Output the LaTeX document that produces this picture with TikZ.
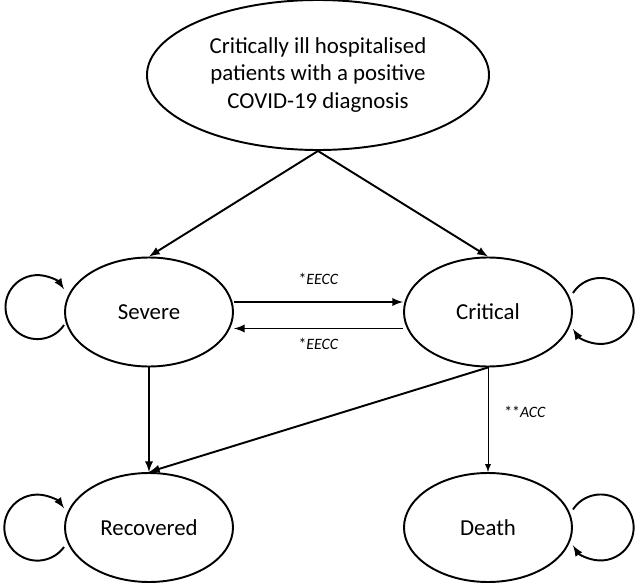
\documentclass[tikz,border=0pt]{standalone}
\usepackage{fontspec}
\setmainfont{Carlito}
\usetikzlibrary{arrows,shapes.geometric}

\begin{document}
\begin{tikzpicture}[line width=1.1pt,>=latex,
state/.style={draw,ellipse,minimum width=3.36cm,minimum height=2.18cm,inner sep=0pt,
font=\fontsize{13}{15.5}\selectfont},
rate/.style={font=\fontsize{9}{11}\selectfont}]
\useasboundingbox(0,0)rectangle(12.72,-11.66);
\node[state,minimum width=6.84cm,minimum height=3cm,align=center](Start)at(6.36,-1.5)
{Critically ill hospitalised\\patients with a positive\\COVID-19 diagnosis};
\node[state](Severe)at(2.98,-6.24){Severe};
\node[state](Critical)at(9.76,-6.24){Critical};
\node[state](Recovered)at(2.98,-10.55){Recovered};
\node[state](Death)at(9.76,-10.55){Death};
\draw[->](Start.south)--(Severe.north);
\draw[->](Start.south)--(Critical.north);
\draw[->]([yshift=0.2cm]Severe.east)--([yshift=0.2cm]Critical.west)
node[rate,midway,above=0.22cm]{*\textit{EECC}};
\draw[->]([yshift=-0.33cm]Critical.west)--([yshift=-0.33cm]Severe.east)
node[rate,midway,below=0.05cm]{*\textit{EECC}};
\draw[->](Severe.south)--(Recovered.north);
\draw[->](Critical.south)--(Recovered.north);
\draw[->,line width=0.55pt](Critical.south)--(Death.north)
node[rate,pos=0.43,right=0.2cm]{**\textit{ACC}};
% self loops
\draw[->]([yshift=-0.26cm]Severe.west)arc(-34:-326:0.64);
\draw[->]([yshift=-0.39cm]Recovered.west)arc(-36:-324:0.66);
\draw[->]([yshift=0.38cm]Critical.east)arc(147:-147:0.66);
\draw[->]([yshift=0.36cm]Death.east)arc(147:-147:0.66);
\end{tikzpicture}
\end{document}
